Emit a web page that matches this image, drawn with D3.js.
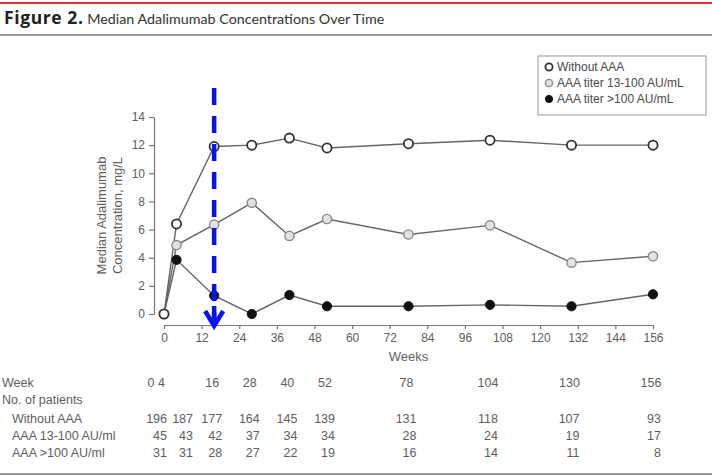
<!DOCTYPE html>
<html>
<head>
<meta charset="utf-8">
<script src="https://cdn.jsdelivr.net/npm/d3@7"></script>
<style>
  html, body { margin: 0; padding: 0; background: #fff; }
  svg { display: block; }
</style>
</head>
<body>
<svg id="chart" width="712" height="476"></svg>
<script>
// Sampling weeks and median concentrations (mg/L) per antibody group
const weeks = [0, 4, 16, 28, 40, 52, 78, 104, 130, 156];
const withoutAAA = [0, 6.4, 11.9, 12.0, 12.5, 11.8, 12.1, 12.35, 12.0, 12.0];
const titerMid = [0, 4.9, 6.35, 7.9, 5.55, 6.75, 5.65, 6.3, 3.65, 4.1];
const titerHigh = [0, 3.85, 1.3, 0, 1.35, 0.55, 0.55, 0.65, 0.55, 1.4];

const seriesNames = ["Without AAA", "AAA titer 13-100 AU/mL", "AAA titer >100 AU/mL"];
const xTicks = d3.range(0, 157, 12);
const yTicks = d3.range(0, 15, 2);

// Patients at risk table
const tableRowLabels = ["Without AAA", "AAA 13-100 AU/ml", "AAA >100 AU/ml"];
const nWithout = [196, 187, 177, 164, 145, 139, 131, 118, 107, 93];
const nMid = [45, 43, 42, 37, 34, 34, 28, 24, 19, 17];
const nHigh = [31, 31, 28, 27, 22, 19, 16, 14, 11, 8];

const markWeek = 16;

const svg = d3.select("#chart");
const font = "'Liberation Sans', Arial, sans-serif";
const textCol = "#5e5e5e";

const x = d3.scaleLinear().domain([0, 156]).range([164, 653]);
const y = d3.scaleLinear().domain([0, 14]).range([314, 117]);

// Header rules and title
svg.append("rect").attr("x", 0).attr("y", 2).attr("width", 712).attr("height", 2).attr("fill", "#d9383a");
svg.append("rect").attr("x", 0).attr("y", 34).attr("width", 712).attr("height", 2).attr("fill", "#9a9a9a");
svg.append("rect").attr("x", 0).attr("y", 473).attr("width", 712).attr("height", 2).attr("fill", "#9a9a9a");

const title = svg.append("text")
  .attr("x", 4).attr("y", 24)
  .attr("fill", "#333");
title.append("tspan")
  .attr("font-family", "'Open Sans', sans-serif")
  .attr("font-size", 17.5)
  .attr("letter-spacing", 0.6)
  .attr("font-weight", "bold").attr("fill", "#222").text("Figure 2.");
title.append("tspan")
  .attr("font-family", "Lato, 'Open Sans', sans-serif")
  .attr("font-size", 14.3)
  .text(" Median Adalimumab Concentrations Over Time");

// Axes
const yAxis = svg.append("g")
  .attr("transform", "translate(154,0)")
  .call(d3.axisLeft(y).tickValues(yTicks).tickSize(5).tickPadding(4).tickSizeOuter(0));
const xAxis = svg.append("g")
  .attr("transform", "translate(0,325)")
  .call(d3.axisBottom(x).tickValues(xTicks).tickSize(4).tickPadding(4).tickSizeOuter(0));

[yAxis, xAxis].forEach(g => {
  g.selectAll("path, line").attr("stroke", "#777").attr("stroke-width", 1.2);
  g.selectAll("text").attr("font-family", font).attr("font-size", 12).attr("fill", textCol);
});

svg.append("text")
  .attr("x", x(78)).attr("y", 361)
  .attr("text-anchor", "middle")
  .attr("font-family", font).attr("font-size", 13).attr("fill", textCol)
  .text("Weeks");

const yTitle = svg.append("text")
  .attr("transform", `translate(101,${y(7)}) rotate(-90)`)
  .attr("text-anchor", "middle")
  .attr("font-family", font).attr("font-size", 13).attr("fill", textCol);
yTitle.append("tspan").attr("x", 0).attr("dy", "0.35em").text("Median Adalimumab");
yTitle.append("tspan").attr("x", 0).attr("dy", "1.3em").text("Concentration, mg/L");

// Series lines and markers
const series = [
  { name: seriesNames[0], values: withoutAAA, fill: "#fff", stroke: "#333", sw: 1.8 },
  { name: seriesNames[1], values: titerMid, fill: "#e2e2e2", stroke: "#8a8a8a", sw: 1.4 },
  { name: seriesNames[2], values: titerHigh, fill: "#111", stroke: "#111", sw: 1 }
];

const line = d3.line().x(d => x(d[0])).y(d => y(d[1]));

series.forEach(s => {
  const pts = weeks.map((w, i) => [w, s.values[i]]);
  svg.append("path")
    .datum(pts)
    .attr("d", line)
    .attr("fill", "none")
    .attr("stroke", "#666")
    .attr("stroke-width", 1.4);
});

series.slice().reverse().forEach(s => {
  const pts = weeks.map((w, i) => [w, s.values[i]]);
  svg.append("g").selectAll("circle")
    .data(pts)
    .join("circle")
    .attr("cx", d => x(d[0]))
    .attr("cy", d => y(d[1]))
    .attr("r", 4.6)
    .attr("fill", s.fill)
    .attr("stroke", s.stroke)
    .attr("stroke-width", s.sw);
});

// Blue dashed marker at week 16
const ax = x(markWeek);
svg.append("line")
  .attr("x1", ax).attr("x2", ax)
  .attr("y1", 88).attr("y2", 318)
  .attr("stroke", "#0a14f0")
  .attr("stroke-width", 4.5)
  .attr("stroke-dasharray", "17 11");
svg.append("path")
  .attr("d", `M${ax - 9},311 L${ax},326 L${ax + 9},311 M${ax},306 L${ax},326`)
  .attr("fill", "none")
  .attr("stroke", "#0a14f0")
  .attr("stroke-width", 4.5)
  .attr("stroke-linejoin", "miter");

// Legend
const lg = svg.append("g").attr("transform", "translate(538,56)");
lg.append("rect")
  .attr("width", 168).attr("height", 59)
  .attr("fill", "#fff").attr("stroke", "#aaa").attr("stroke-width", 1.2);
series.forEach((s, i) => {
  const row = lg.append("g").attr("transform", `translate(0,${11 + i * 16})`);
  row.append("circle")
    .attr("cx", 11).attr("cy", 0).attr("r", 3.6)
    .attr("fill", s.fill).attr("stroke", s.stroke).attr("stroke-width", s.sw);
  row.append("text")
    .attr("x", 19).attr("y", 0).attr("dy", "0.35em")
    .attr("font-family", font).attr("font-size", 12).attr("fill", "#4a4a4a")
    .text(s.name);
});

// Patients-at-risk table
const tfont = 12.5;
const colRight = (w, i) => (i === 0 ? 167 : i === 1 ? 193 : x(w) + 8);
const tRows = [
  { y: 387, label: "Week", indent: 2 },
  { y: 404, label: "No. of patients", indent: 2 },
  { y: 423, label: tableRowLabels[0], indent: 12, vals: nWithout },
  { y: 440, label: tableRowLabels[1], indent: 12, vals: nMid },
  { y: 457, label: tableRowLabels[2], indent: 12, vals: nHigh }
];
tRows.forEach(r => {
  svg.append("text")
    .attr("x", r.indent).attr("y", r.y)
    .attr("font-family", font).attr("font-size", tfont).attr("fill", textCol)
    .text(r.label);
  if (r.vals) {
    svg.append("g").selectAll("text")
      .data(r.vals)
      .join("text")
      .attr("x", (d, i) => colRight(weeks[i], i))
      .attr("y", r.y)
      .attr("text-anchor", "end")
      .attr("font-family", font).attr("font-size", tfont).attr("fill", textCol)
      .text(d => d);
  }
});

// Week header row: the first two weeks share one slot
svg.append("text")
  .attr("x", 165).attr("y", 387)
  .attr("text-anchor", "end")
  .attr("font-family", font).attr("font-size", tfont).attr("fill", textCol)
  .text(`${weeks[0]} ${weeks[1]}`);
svg.append("g").selectAll("text")
  .data(weeks.slice(2))
  .join("text")
  .attr("x", d => x(d) - 2)
  .attr("y", 387)
  .attr("text-anchor", "middle")
  .attr("font-family", font).attr("font-size", tfont).attr("fill", textCol)
  .text(d => d);
</script>
</body>
</html>
